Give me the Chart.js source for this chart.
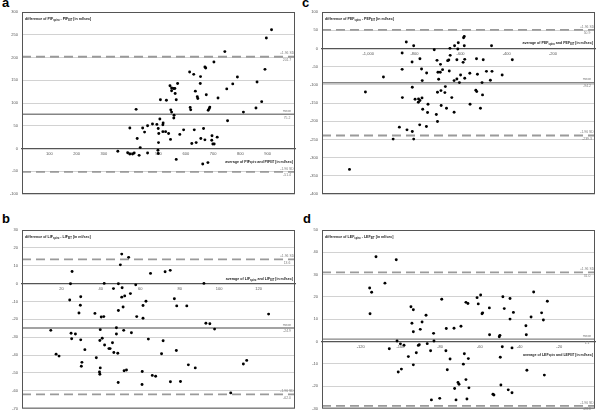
<!DOCTYPE html>
<html>
<head>
<meta charset="utf-8">
<script src="https://cdn.jsdelivr.net/npm/chart.js@4.4.1/dist/chart.umd.min.js"></script>
<style>
  body { margin: 0; background: #fff; width: 600px; height: 415px; position: relative; overflow: hidden; }
  canvas { position: absolute; }
  .letter { position: absolute; font: bold 13px "Liberation Sans", Arial, sans-serif; line-height: 13px; color: #000; }
</style>
</head>
<body>
<div class="letter" style="left:2px;top:-4px">a</div>
<div class="letter" style="left:302px;top:-4px">c</div>
<div class="letter" style="left:2px;top:212px">b</div>
<div class="letter" style="left:303px;top:212px">d</div>
<canvas id="pa" width="300" height="205" style="left:0;top:0"></canvas>
<canvas id="pc" width="300" height="205" style="left:300px;top:0"></canvas>
<canvas id="pb" width="300" height="210" style="left:0;top:205px"></canvas>
<canvas id="pd" width="300" height="210" style="left:300px;top:205px"></canvas>
<script>
// --- panel a: PIF ---
const pifAvg = [914,895,743,703,670,673,614,629,654,789,890,653,772,861,570,542,548,555,560,548,561,750,635,675,642,644,718,507,529,565,878,418,616,618,688,686,682,545,548,811,857,557,556,753,505,517,516,494,478,460,442,395,449,499,501,516,526,537,592,578,631,665,544,422,500,622,638,655,670,696,715,695,699,704,433,351,387,395,405,411,429,460,498,499,565,662,681];
const pifDiff = [261,243,213,190,179,177,168,163,158,157,174,143,142,146,143,138,133,132,132,127,121,131,126,118,114,110,111,107,106,107,103,86,90,85,91,88,84,85,80,80,89,73,67,61,65,56,52,53,54,50,45,45,36,44,33,37,37,33,41,31,41,44,20,22,13,11,13,22,19,28,25,18,10,10,2,-6,-9.5,-12,-12,-10,-15,-10,-4,-11,-24,-34,-31];
const pifStats = [201.7, 75.2, -51.4];
const pifXRange = [0, 1000];
const pifYRange = [-100, 300, 50];
const pifXTicks = [100, 200, 300, 400, 500, 600, 700, 800, 900];

// --- panel b: LIF ---
const lifAvg = [50.6,54.1,49.9,25.4,65.2,72.6,75.2,24.6,41.7,48.9,57.7,92.3,46.4,50.8,55,52.1,50.6,29.8,24.2,62.9,77.3,29.6,61.4,78.5,83.6,51.3,48.9,28.9,37,40.2,41.5,58.2,61.4,125.1,93.3,95.3,97.7,14.6,47.9,39.7,51.6,24.9,27.1,55.5,47.9,25.2,29.8,39.5,40.7,64.1,71.6,41.9,45.9,44.1,44.7,31.9,46.6,48.6,78.3,70.8,17.3,18.8,37.7,30.4,30.1,84.4,87.9,112.3,114,39.7,39.3,39.5,51.8,53,61,66.1,67.8,48.8,60.9,75.3,80.4,105.9];
const lifDiff = [16.5,14.7,10.5,6.8,5.7,6.6,7.4,-0.1,0.1,-0.1,-0.7,0.1,-2.8,-2.3,-5.6,-6.9,-7.6,-7.4,-9.2,-9.9,-8.5,-12.1,-12.3,-12.5,-12.5,-13.1,-15.1,-16.5,-16.7,-18.7,-18.5,-18.5,-19.4,-17.1,-22.2,-22.5,-25.5,-26.2,-24.7,-25.8,-26.2,-27.8,-28.2,-27.5,-28.2,-30.9,-31.5,-31.9,-30.6,-31.1,-32,-34.4,-33.1,-36.4,-36.4,-37,-38.6,-39,-37.5,-39.3,-39.5,-40.6,-41.5,-44.1,-46.3,-45.5,-47.2,-45,-43,-47.2,-49.5,-50.8,-48.8,-48.4,-49.2,-51.4,-51.9,-55.4,-56.5,-55,-54.8,-61.2];
const lifStats = [13.6, -24.9, -62.0];
const lifXRange = [0, 138.5];
const lifYRange = [-70, 30, 10];
const lifXTicks = [20, 40, 60, 80, 100, 120];

// --- panel c: PEF ---
const pefAvg = [-835,-803,-714,-646,-626,-610,-584,-587,-584,-612,-466,-853,-776,-810,-702,-687,-656,-651,-645,-616,-589,-582,-531,-502,-376,-934,-853,-769,-747,-766,-698,-688,-678,-649,-695,-628,-616,-600,-582,-605,-560,-527,-488,-464,-471,-420,-507,-1012,-809,-852,-797,-782,-776,-767,-783,-700,-685,-668,-666,-638,-534,-530,-505,-741,-684,-661,-559,-514,-764,-743,-705,-628,-700,-777,-748,-865,-832,-809,-892,-803,-1081];
const pefDiff = [17.4,7.4,-3.6,0.1,7.4,15.6,32.9,29.3,7.4,-1.8,7.4,-12.7,-28.3,-37.4,-32.8,-43.8,-33.7,-31.9,-19.1,-31,-38.3,-30.1,-28.3,-31,-31,-78.5,-57.5,-56.6,-67.5,-88.5,-65.7,-65.7,-58.4,-62,-84.9,-88.5,-84,-73,-82.1,-94,-68.4,-71.2,-63,-63,-87.6,-73,-94,-119.6,-106.8,-135.1,-139.7,-138.7,-143.3,-136,-147.9,-120.5,-115.9,-121.4,-105,-135.1,-115,-118.7,-127.8,-153.4,-157,-164.3,-153.4,-164.3,-167,-176.2,-181.7,-175.3,-200.8,-210,-214.5,-216.4,-223.7,-228.2,-249.2,-249.2,-332.4];
const pefStats = [50.9, -94.2, -239.3];
const pefXRange = [-1200, -18];
const pefYRange = [-400, 100, 50];
const pefXTicks = [-1000, -800, -600, -400, -200];

// --- panel d: LEF ---
const lefAvg = [-112.3,-102.1,-107.8,-115.5,-114.5,-115.3,-79.2,-94.7,-93.5,-87.1,-94.2,-89.1,-93.5,-90,-83.3,-76.9,-73,-69.5,-67,-66,-61.4,-59.6,-60.8,-58.9,-58.6,-55.2,-48.4,-44.8,-47.7,-43.1,-44.8,-32.9,-26,-28.9,-34.2,-28,-36.8,-36.6,-55.1,-49.9,-50.2,-101.7,-83.1,-105.6,-100,-98.2,-91,-90.5,-86.5,-84.8,-92,-96,-93.5,-101.1,-99.5,-77.1,-75,-67.8,-65.8,-68.3,-76.4,-48.7,-43.8,-49.7,-36.3,-27.5,-67,-71,-70.5,-72.7,-65.5,-49.4,-52.9,-53.4,-45.7,-43.8,-84.4,-80.2,-72,-66.5];
const lefDiff = [38,36.7,26.2,24,22.1,12.5,19,15.6,14.3,11.8,8.2,8.8,4.4,5.5,3.7,5.9,6,6.9,17.6,17.1,19.7,20.9,16.9,12.5,12.9,15.1,20.1,19.3,14.8,13.1,10.1,22.2,18.1,12.9,11,9.7,7.1,3.1,3.1,2.8,2.2,0.3,0.3,-3.2,-1,-1.6,-1.7,-1.4,-0.9,-4.1,-5,-6.7,-10.4,-13.6,-12.3,-4.1,-7.8,-5.4,-7.6,-10.1,-12.6,-2.3,-2.8,-7,-12.8,-15,-17,-18.3,-19.1,-21,-20.7,-19.4,-23.9,-23.6,-21.6,-22.9,-26.1,-25.4,-26.1,-25.7];
const lefStats = [31.0, 1.1, -28.8];
const lefXRange = [-139.5, -2];
const lefYRange = [-30, 50, 10];
const lefXTicks = [-120, -100, -80, -60, -40, -20];

const refNames = ['+1.96 SD', 'mean', '-1.96 SD'];
const FONT = '"Liberation Sans", Arial, sans-serif';

function titleParts(name, kind) {
  return kind === 'diff'
    ? [['difference of ' + name, 0], ['spiro', 1], [' - ' + name, 0], ['EIT', 1], [' [in ml/sec]', 0]]
    : [['average of ' + name, 0], ['spiro', 1], [' and ' + name, 0], ['EIT', 1], [' [in ml/sec]', 0]];
}

// text with subscripts, x is left or right edge
function drawSub(ctx, parts, x, y, align) {
  const big = 'bold 3.6px ' + FONT, small = 'bold 2.6px ' + FONT;
  let w = 0;
  parts.forEach(([t, s]) => { ctx.font = s ? small : big; w += ctx.measureText(t).width; });
  let cx = align === 'right' ? x - w : x;
  ctx.textAlign = 'left';
  ctx.textBaseline = 'middle';
  ctx.fillStyle = '#222';
  parts.forEach(([t, s]) => {
    ctx.font = s ? small : big;
    ctx.fillText(t, cx, s ? y + 1 : y);
    cx += ctx.measureText(t).width;
  });
}

const decor = {
  id: 'decor',
  afterDraw(chart, args, o) {
    const { ctx, chartArea: a } = chart;
    const y = chart.scales.y;
    ctx.save();
    ctx.strokeStyle = '#555';
    ctx.lineWidth = 1;
    ctx.strokeRect(a.left + 0.5, a.top + 0.5, a.right - a.left - 1, a.bottom - a.top - 1);

    ctx.fillStyle = '#7a7a7a';
    ctx.font = '3.4px ' + FONT;
    ctx.textAlign = 'center';
    o.stats.forEach((v, i) => {
      const py = y.getPixelForValue(v);
      ctx.textBaseline = 'bottom';
      ctx.fillText(refNames[i], a.right - 8, py - 1.5);
      ctx.textBaseline = 'top';
      ctx.fillText(v.toFixed(1), a.right - 8, py + 1.8);
    });
    drawSub(ctx, titleParts(o.name, 'diff'), a.left + 3, a.top + 7, 'left');
    drawSub(ctx, titleParts(o.name, 'avg'), a.right - 2, y.getPixelForValue(0) + o.xTitleDy, 'right');
    ctx.restore();
  }
};

function refLine(v, xr, dashed) {
  return {
    type: 'line',
    data: [{ x: xr[0], y: v }, { x: xr[1], y: v }],
    borderColor: dashed ? '#9a9a9a' : '#858585',
    borderWidth: dashed ? 1.8 : 1.4,
    borderDash: dashed ? [9, 5] : [],
    pointRadius: 0,
    order: 1
  };
}

function makePanel(id, name, xs, ys, stats, xr, yr, xTicks, pad, xTitleDy) {
  const pts = xs.map((x, i) => ({ x, y: ys[i] }));
  new Chart(document.getElementById(id), {
    type: 'scatter',
    data: {
      datasets: [
        { data: pts, pointRadius: 1.45, pointHoverRadius: 1.45, backgroundColor: '#000', borderWidth: 0, order: 0 },
        refLine(stats[0], xr, true),
        refLine(stats[1], xr, false),
        refLine(stats[2], xr, true)
      ]
    },
    options: {
      responsive: false,
      animation: false,
      layout: { padding: pad },
      plugins: { legend: { display: false }, tooltip: { enabled: false }, decor: { stats, name, xTitleDy } },
      scales: {
        x: {
          type: 'linear',
          min: xr[0], max: xr[1],
          position: { y: 0 },
          afterFit: s => { s.height = 0; },
          afterBuildTicks: s => { s.ticks = xTicks.map(v => ({ value: v })); },
          grid: { display: false, drawTicks: false },
          border: { display: true, color: '#555', width: 1.3 },
          ticks: { font: { size: 4, family: FONT }, color: '#555', padding: 3, maxRotation: 0, autoSkip: false }
        },
        y: {
          min: yr[0], max: yr[1],
          afterFit: s => { s.width = 22; },
          ticks: { stepSize: yr[2], font: { size: 4, family: FONT }, color: '#555', padding: 4 },
          grid: { color: '#d2d2d2', lineWidth: 1, drawTicks: false },
          border: { display: false }
        }
      }
    },
    plugins: [decor]
  });
}

makePanel('pa', 'PIF', pifAvg, pifDiff, pifStats, pifXRange, pifYRange, pifXTicks, { top: 12, right: 5, bottom: 11, left: 0 }, 13);
makePanel('pc', 'PEF', pefAvg, pefDiff, pefStats, pefXRange, pefYRange, pefXTicks, { top: 12, right: 5, bottom: 11, left: 0 }, -5.5);
makePanel('pb', 'LIF', lifAvg, lifDiff, lifStats, lifXRange, lifYRange, lifXTicks, { top: 25, right: 5, bottom: 3, left: 0 }, -4.5);
makePanel('pd', 'LEF', lefAvg, lefDiff, lefStats, lefXRange, lefYRange, lefXTicks, { top: 25, right: 5, bottom: 3, left: 0 }, 13);
</script>
</body>
</html>
